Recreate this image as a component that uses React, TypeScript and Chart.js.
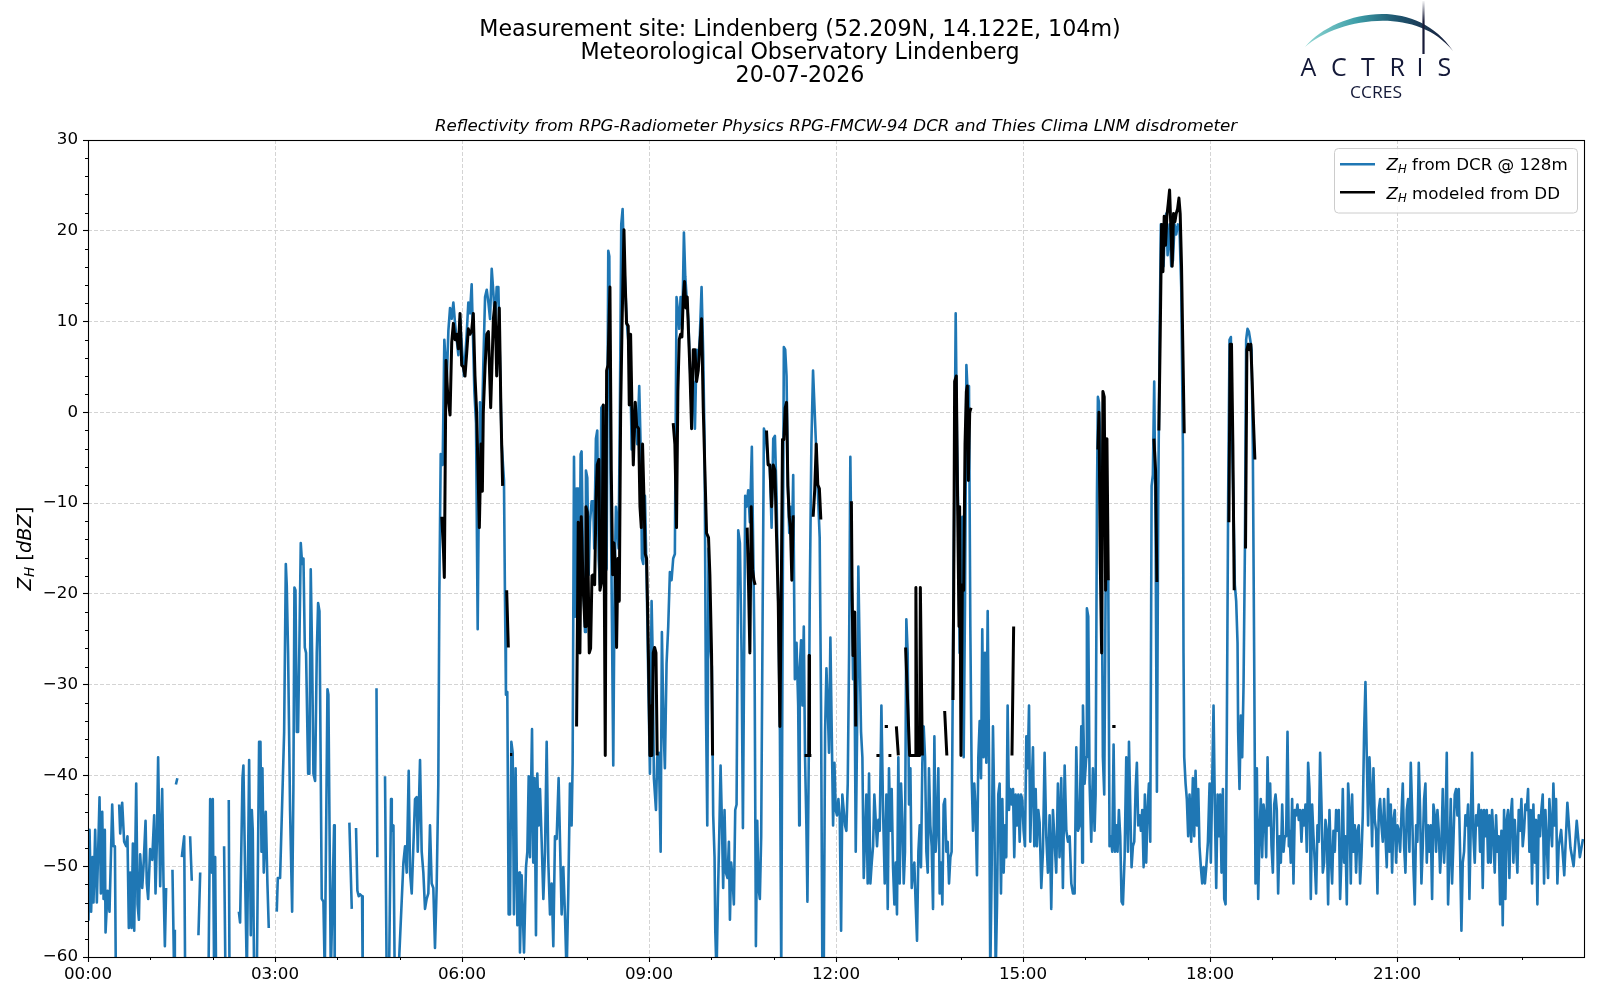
import React, { useEffect, useRef } from "react";
import { Chart, registerables } from "chart.js";
Chart.register(...registerables);

// ---------- axis ticks ----------
const xTickMinutes = [0, 180, 360, 540, 720, 900, 1080, 1260];
const xMinorMinutes = [60, 120, 240, 300, 420, 480, 600, 660, 780, 840, 960, 1020, 1140, 1200, 1320, 1380];
const yTickValues = [-60, -50, -40, -30, -20, -10, 0, 10, 20, 30];
const yMinorValues = [-58, -56, -54, -52, -48, -46, -44, -42, -38, -36, -34, -32, -28, -26, -24, -22, -18, -16, -14, -12, -8, -6, -4, -2, 2, 4, 6, 8, 12, 14, 16, 18, 22, 24, 26, 28];

// ---------- DCR reflectivity [minute of day, dBZ]  (null = no data) ----------
const dcrNight: [number, number | null][] = [
  [0.5,-56],[1.5,-46],[3,-55],[4.4,-49],[5.3,-54],[6.9,-46],[8.5,-54],[11.1,-42.4],[12.4,-53],[13.7,-44],[15,-53.6],[16.2,-46],[16.9,-57.3],[18.8,-52.7],[20.7,-55],[23.3,-43.2],[24.6,-47.8],[25.9,-47.8],[26.8,-62],[28,null],
  [30,-43.2],[31,-46.4],[32.9,-43],[34.8,-47.3],[36.8,-47.8],[38,-46.7],[39.3,-56.8],[40.6,-50.7],[41.9,-56.8],[43.2,-47.5],[44.5,-57.1],[46.4,-40.9],[47.7,-54.2],[49,-55.9],[50.2,-48.7],[52.2,-52.4],[53.4,-50.1],[55.4,-45],[56.6,-51.9],[57.9,-53.6],[59.8,-48.1],[61.8,-49.3],[63.7,-44.4],[65,-53],[66.3,-47.3],[67.5,-38],[69.5,-52.2],[71.4,-41.5],[72.7,-51.9],[74,-58.8],[75.2,-52.4],[77,null],
  [81.3,-50.4],[82.9,-62],[83.6,-57],[84.1,null],
  [84.6,-41],[86,-40.3],[86.5,null],
  [90.3,-49],[92.6,-46.7],[93.5,-62],[94,null],
  [98.3,-46.7],[99.9,-51.6],[100.5,null],
  [106.3,-57.6],[108,-50.7],[108.5,null],
  [116,-62],[117.6,-42.6],[119.2,-50.7],[120.1,-42.6],[121.4,-62],[122.4,-49],[123.3,-62],[124,null],
  [131,-47.8],[132.3,-62],[133,null],
  [135.5,-42.7],[136.2,-62],[137,null],
  [145.2,-55],[146.4,-56.2],[148.7,-40.3],[149.6,-38.9],[151.6,-53.6],[152.9,-62],[155.1,-38.3],[156.7,-57.6],[157.7,-43.8],[158.6,-46.1],[159.9,-62],[162.5,-62],[164.7,-36.3],[166,-36.3],[167,-48.4],[167.9,-39.2],[169.2,-50.7],[171.1,-44],[172.7,-51.9],[174,-56.8],[175,null],
  [181.7,-55],[182.7,-51.3],[184.9,-51.3],[188.8,-35.2],[190.4,-16.7],[191.3,-19],[192.6,-26.5],[194.5,-43.8],[196.5,-55],[197.7,-41.5],[198.7,-19.3],[199.7,-19.6],[201,-35.2],[202.2,-35.2],[203.5,-25.4],[204.8,-14.4],[206.1,-16.7],[207.4,-16.1],[208.7,-25.9],[209.9,-26.5],[211.9,-39.8],[213.1,-39.8],[214.4,-17.3],[215.7,-26.5],[217,-39.8],[218.6,-40.6],[220.2,-26.5],[221.5,-21],[222.8,-21.9],
  [225,-53.6],[226.6,-53.9],[227.9,-62],[230.5,-30.5],[231.4,-31.1],[233.7,-62],[236.9,-45.5],[237.5,-62],[238,null],
  [251.6,-45.2],[253.9,-54.7],[254.5,null],
  [258,-45.8],[259.3,-52.7],[260.6,-53.3],[261.9,-53.1],[263.8,-53.3],[264.4,-62],[265,null],
  [277.7,-30.4],[278.5,-49],[279,null],
  [285.9,-40.1],[287.5,-62],[289.8,-62],[291.7,-42.6],[292.4,-46.1],[294,-45.5],[295.2,-62],[298.8,-62],
  [303.6,-49.6],[305.2,-47.8],[306.8,-50.7],[308.7,-39.5],[310,-50.7],[311.6,-53],[313.2,-47.8],[314.8,-42.6],[316.4,-42.4],[317.4,-48.4],[319.6,-38.3],[321.2,-48.4],[322.8,-50.7],[324.4,-54.7],[326,-53.6],[327.6,-53],[329.2,-45.5],[330.8,-51.9],[332.4,-52.4],[334,-59],[335.6,-52.4],[337.2,-40.9],
];

const dcrMorning: [number, number | null][] = [
  [338.2,-20],[339.5,-4.6],[341.4,-5.8],[343,8],[345.3,3.4],[346.9,9],[348.5,11.5],[350.1,10.3],[351.7,12.1],[353.3,9.8],[354.9,8],[356.5,6.3],[358.1,10.3],[359.7,7.5],[361.9,4],[364.5,8.6],[366.1,12.1],[367.7,10.9],[369.3,14.1],[370.9,6.9],[371.9,2.3],[373.5,-1.2],[375.1,-23.9],[376.4,-6.4],[377.3,1.1],[378.9,-3.5],[380.5,5.2],[382.2,12.7],[383.8,13.5],[385.4,12.1],[387,10.3],[388.6,15.8],[390.2,13.2],[391.8,9.8],[393.4,13.8],[395,13.8],[396.6,5.2],[398.2,-3.5],[400.4,-7.5],[401.4,-20.8],[402.3,-31.1],[403.6,-30.8],[404.9,-55.3],[406.2,-55.3],[407.5,-36.3],[408.8,-37.5],[410,-55.3],[411.6,-39.2],[413.3,-56.5],[415.2,-50.7],[415.8,-59.5],[417.4,-51],[419.7,-59.5],[421.6,-50.1],[422.9,-48.4],[424.2,-40.1],[425.4,-49],[427.4,-34.9],[428.6,-49.6],[429.9,-40.3],[431.2,-57.6],[432.5,-39.8],[433.8,-45.5],[435.1,-41.5],[436.7,-47.3],[438.3,-53.6],[439.9,-48.4],[441.5,-36.3],[443.1,-49.6],[444.7,-55.3],[446.3,-51.9],[447.9,-58.8],[449.5,-46.7],[451.1,-47],[453,-40.3],
  [455.9,-55.3],[457.5,-50.1],[459.1,-55.3],[460.7,-62],[462.3,-53],[463.9,-40.9],[465.5,-45.5],[466.5,-38.6],[467.8,-4.9],[469.1,-22.5],[470.3,-8.4],[471.9,-8.4],[472.9,-23.1],[474.2,-4.6],[475.1,-4.3],[476.7,-18.5],[478.4,-24.2],[479.3,-6.4],[480.6,-7.2],[481.9,-17.9],[483.2,-12.1],[484.8,-9.8],[486.4,-9.8],[487.3,-15],[488.9,-2.9],[490.2,-2],[491.5,-16.1],[492.8,-19],[494.1,0.5],[496,0.8],[497.3,-14.4],[499.2,-17.3],[500.8,17.8],[501.8,17.2],[503,-6.4],[504.3,-22.8],[505.6,-38.9],[506.9,-18.5],[508.2,-10.4],[509.5,-12.7],[510.7,-15],[512,0.5],[513.3,20.7],[514.6,22.4],[515.9,16.7],[517.2,13.8],[518.4,10.3],[520,8],[521.6,8],[523.3,-4.1],[524.9,-2.9],[526.8,0],[528.7,-3.5],[530.6,2.9],[531.9,-3.5],[533.2,-16.1],[534.5,-16.7],[536.1,-9.2],[537.7,-17.9],[539.3,-29.4],[540.9,-39.8],[542.5,-20.8],[543.5,-26.5],[544.7,-40.3],[546.7,-43.8],[547.9,-38],[549.5,-37.5],[551.2,-48.4],[552.4,-24.2],[554,-34.6],[555.3,-39.2],[556.9,-27.7],[558.5,-23.6],[560.1,-17.6],[561.7,-18.5],[563.3,-16.1],[564.9,-15.6],[566.5,12.7],[568.1,10.9],[569.1,9.2],[570.4,12.7],[572,9.2],[573.6,19.8],[574.9,15],[576.2,12.7],[577.8,10.3],[579.4,5.2],[581,0.5],[582.6,3.4],[584.2,-1.8],[585.8,6.9],[587.4,5.2],[589,8.6],[590.6,13.8],[592.2,6.3],[593.5,-3.5],[594.8,-32.3],[596.1,-45.5],[597.3,-15],[598.6,-25.2],[600.5,-28],[601.8,-44.4],[603.1,-49],[603.8,-57.1],[605,-62],[606.3,-53.6],[607.6,-46.7],[608.9,-38.9],[610.2,-45.2],[611.4,-52.4],[612.7,-43.8],[614,-50.7],[615.6,-51.3],[616.9,-47.3],[617.9,-55.9],[619.1,-49.6],[620.4,-51.3],[621.7,-54.2],[623,-43.8],[624.3,-43.2],[625.9,-13],[627.5,-14.4],[629.1,-26.5],[630.4,-45.8],[631.6,-26.5],[632.6,-9.2],[633.9,-10.4],[635.5,-8.6],[637.1,-12.1],[639,-3.8],[640.3,-15],[641.6,-26.5],[642.9,-58.8],[644.2,-45],[645.4,-52.4],[646.7,-53.6],[648,-46.7],[649.3,-23.6],[650.6,-1.8],[651.8,-2.3],[653.1,-3.5],[654.7,-5.8],[656.3,-5.8],[658,-12.7],[659.6,-2.9],[661.2,-2.6],[662.8,-9.2],[664.4,-20.8],[666,-35.2],[667.3,-62],[668.5,-26.5],[669.8,7.2],[671.1,6.9],[672.4,4],[673.7,-8.1],[675,-13.3],[676.2,-10.4],[677.5,-15],[678.8,-6.9],[680.4,-29.4],[682,-25.4],[683.6,-32.3],[684.6,-45.5],
];

const dcrAfternoon: [number, number | null][] = [
  [685.1,-28.2],[686.4,-25.1],[687.7,-32.3],[689,-23.6],[690.2,-38],[691.5,-45.5],[692.5,-53.9],[693.8,-38],[694.7,-20.8],[696.3,-3.5],[697.9,4.6],[699.5,0],[701.1,-4.6],[702.7,-9.2],[704.3,-13.8],[705.6,-32.3],[706.9,-62],[708.2,-62],[709.5,-35.2],[710.8,-28.2],[712,-32.3],[713.3,-37.5],[714.6,-24.8],[715.9,-35.2],[717.2,-45.5],[718.5,-38.6],[719.7,-43.8],[721,-44.4],[722.3,-42.6],[723.6,-44.4],[724.9,-57.1],[726.1,-42.1],[727.4,-43.8],[728.7,-45.5],[730,-46.1],[731.3,-40.9],[732.6,-26.5],[733.8,-4.9],[735.1,-17.9],[736.4,-29.4],[737.7,-26.5],[739,-48.4],[740.3,-35.2],[741.5,-17],[742.8,-26.5],[744.1,-35.2],[745.4,-38],[746.7,-51.3],[748,-46.7],[749.2,-42.1],[750.5,-51.9],[751.8,-39.8],[753.1,-51.9],[754.4,-49.6],[755.7,-47.8],[756.9,-42.1],[758.2,-44.9],[759.5,-47.8],[760.8,-44.9],[762.1,-46.1],[763.7,-32.3],[765.3,-43.8],[766.9,-51.9],[768.5,-42.1],[769.8,-54.7],[771,-39.2],[772.3,-46.1],[773.6,-41.5],[774.9,-50.1],[776.2,-54.2],[777.5,-49.6],[778.7,-55.3],[780,-38],[781.3,-51.9],[782.6,-40.9],[783.9,-44.9],[785.2,-51.9],[786.4,-48.4],[787.7,-22.8],[789,-26.5],[790.3,-43.2],[791.6,-39.2],[792.9,-52.4],[794.1,-50.7],[795.4,-49.6],[796.7,-54.2],[798,-58.2],[799.3,-48.4],[800.6,-45.5],[801.8,-50.1],[803.1,-38.6],[804.4,-34.6],[805.7,-38],[807,-48.4],[808.3,-50.7],[809.5,-39.2],[810.8,-45.5],[812.1,-47.8],[813.4,-54.7],[814.7,-35.7],[815.9,-48.4],[817.2,-45.5],[818.5,-39.2],[819.8,-53],[821.1,-49.6],[822.4,-54.2],[823.6,-43.2],[824.9,-42.6],[826.2,-48.4],[827.5,-47.3],[828.8,-51.9],[830.1,-49],[831.3,-48.4],[832.6,-26.5],[833.9,-9.2],[835.2,10.9],[836.5,-3.5],[837.8,-12.1],[839,-26.5],[840.3,-20.8],[841.6,-11.5],[842.9,-38],[844.2,-20.8],[845.5,5.2],[846.7,2.3],[848,2.9],[849.3,-23.6],[850.6,-40.3],[851.9,-46.1],[853.1,-40.9],[854.4,-43.8],[855.7,-51],[857,-38],[858.3,-34],[859.6,-40.3],[860.8,-23.9],[862.1,-38],[863.4,-26.5],[864.7,-38.6],[866,-21.9],[867.3,-38],[868.5,-62],[869.8,-50.7],[871.1,-34.6],[872.4,-43.8],[873.7,-62],[875,-54.2],[876.2,-42.1],[877.5,-40.9],[878.8,-53],[880.1,-42.6],[881.4,-50.7],[882.7,-45.5],[883.9,-49],[885.2,-32.3],[886.5,-43.8],[887.8,-41.5],[889.1,-43.2],[890.4,-41.5],[891.6,-49],[892.9,-42.1],[894.2,-45.5],[895.5,-42.1],[896.8,-47.3],[898.1,-42.1],[899.3,-42.6],[900.6,-46.1],[901.9,-47.8],[903.2,-35.7],[904.5,-39.2],[905.8,-32.3],[907,-47.3],[908.3,-41.5],[909.6,-36.9],[910.9,-47.8],[912.2,-41.5],[913.4,-47.8],[914.7,-43.8],
  [916,-45.2],[917.6,-52.4],[919.2,-48.4],[920.8,-37.5],[922.4,-46.7],[924,-50.7],[925.6,-44.4],[927.2,-54.7],[928.8,-43.8],[930.4,-47.3],[932,-50.7],[933.6,-40.9],[935.2,-49],[936.8,-40.3],[938.4,-52.4],[940.1,-38.9],[941.7,-46.1],[943.3,-47.3],[944.9,-46.7],[946.5,-51.9],[948.1,-53],[949.7,-53],[951.3,-36.9],[952.9,-46.1],[954.5,-45.5],[956.1,-34.6],[957,-49.6],[957.7,-32.3],[959.3,-40.9],[960.9,-38],[961.5,-21.6],[962.8,-22.5],[964.1,-40.9],[965.7,-47.3],[967.3,-39.2],[968.9,-46.1],[969.9,-42.1],[971.2,-9.2],[972.1,1.7],[973.1,1.1],[974.4,-3.5],[975.7,-15],[976.9,-38],[978.2,-42.1],[979.5,-19.6],[980.8,-18.5],[982.1,-18.5],[983.3,-47.8],[984.6,-46.7],[985.9,-48.4],[987.2,-36.6],[988.5,-48.4],[989.8,-45.5],[991,-48.4],[992.3,-43.8],[993.6,-46.7],[994.9,-53.9],[996.2,-54.2],[997.8,-49],[999.4,-38],[1001,-48.4],[1002,-36.3],[1003.2,-43.2],[1004.5,-50.1],[1005.8,-47.8],[1007.1,-47.3],[1008.4,-41.5],[1009.6,-38.6],[1010.9,-45.5],[1012.2,-44.4],[1013.5,-46.1],[1014.8,-43.8],[1016.1,-50.1],[1017.3,-42.1],[1018.6,-49.6],[1019.9,-43.8],[1021.2,-40.9],[1022.5,-47.3],[1023.8,-8.1],[1025,-6.9],[1026.3,3.4],[1027.6,-12.7],[1028.9,-41.8],[1030.2,-9.2],[1031.5,8],[1032.7,20.7],[1034,19],[1035.3,16.1],[1036.6,20.7],[1037.9,21.9],[1039.2,17.3],[1041.1,20.7],[1042.7,16.1],[1044.3,16.7],[1045.9,20.7],[1047.5,19.6],[1049.1,20.7],[1050.7,20.1],[1052.3,13.8],[1053.9,-3.5],[1054.5,-26.5],[1055.2,-38],[1056.5,-40.9],[1057.7,-42.6],[1059,-46.7],[1060.3,-42.1],[1061.9,-47.3],[1063.5,-40.3],[1064.8,-46.7],[1066.1,-39.5],[1067.4,-45.5],[1068.7,-41.5],[1069.9,-47.8],[1071.2,-50.1],[1072.5,-51.9],[1073.8,-50.1],[1075.1,-51.9],[1076.4,-50.1],[1078,-47.3],[1079.6,-40.9],[1080.8,-49.6],[1082.1,-40.9],[1083.4,-32.3],[1084.7,-43.8],[1086,-52.4],[1087.3,-42.1],[1088.5,-46.7],[1089.8,-42.1],[1091.1,-50.7],[1092.4,-41.5],[1093.7,-53.6],[1095,-54.2],[1096.2,-35.2],[1097.5,-9.2],[1098.8,8],[1100.1,8.3],[1101.4,-3.5],[1102.6,-10.4],[1103.9,-19],[1105.2,-20.8],[1106.5,-25.4],[1107.1,-35.2],[1108.4,-41.5],[1109.7,-33.4],[1111,-38],[1112.3,-30],[1113.6,-15],[1114.8,8],[1116.1,9.2],[1117.4,8.9],[1118.7,8],[1120,6.9],[1121.2,-3.5],[1122.5,-26.5],[1123.8,-51.9],[1125.1,-39.2],[1126.4,-53.6],[1127.7,-46.1],[1128.9,-42.6],[1130.2,-49],[1131.5,-43.2],[1132.8,-44.4],[1134.1,-49],[1135.4,-38],[1136.6,-45.5],[1137.9,-40.9],[1139.2,-47.8],[1140.5,-50.7],[1141.8,-43.2],[1143.1,-42.1],[1144.3,-43.8],[1145.6,-53],[1146.9,-46.7],[1148.2,-49.6],[1149.5,-43.2],[1150.8,-48.4],[1152,-46.7],[1153.3,-46.7],[1154.6,-35.2],[1155.9,-47.8],
];

// evening: regular sampling from 19:16:30, every 1.283 min
const dcrEveningStart = 1156.5;
const dcrEveningStep = 1.283;
const dcrEvening: number[] = [
  -46.1,-49.6,-42.6,-51.9,-43.8,-44.4,-43.2,-44.9,-43.8,-47.3,-43.8,-45.5,-43.2,-48.4,-38.6,-41.5,-53.6,-43.2,-46.7,-49.6,
  -53,-45.5,-47.3,-37.5,-43.2,-50.7,-49.6,-44.9,-46.1,-54.2,-43.8,-49,-51.9,-46.1,-48.4,-43.8,-46.1,-43.8,-53.6,-49,
  -41.5,-49.6,-46.7,-54.2,-40.9,-43.8,-51.9,-42.1,-48.4,-45.5,-50.7,-46.1,-45.5,-51.9,-49,-44.4,-35.2,-29.7,-38,-45.5,
  -38,-41.5,-47.8,-39.2,-44.9,-46.1,-53,-43.8,-42.6,-45.5,-47.3,-42.6,-46.7,-50.1,-41.5,-48.4,-43.2,-50.7,-44.9,-43.8,
  -49.6,-45.5,-46.1,-48.4,-44.4,-40.9,-47.8,-50.7,-43.8,-42.6,-48.4,-38.6,-43.8,-50.1,-54.2,-45.5,-47.3,-38.6,-43.8,-51.9,
  -47.8,-42.6,-40.9,-49.6,-45.5,-48.4,-45.5,-53.6,-43.2,-44.4,-48.4,-43.8,-46.1,-50.7,-47.8,-41.5,-49.6,-46.1,-37.5,-54.2,
  -49,-42.6,-51.9,-47.3,-42.1,-41.5,-44.4,-41.5,-48.4,-57.1,-49.6,-48.4,-44.4,-45.5,-43.2,-53.6,-45.5,-37.5,-46.7,-49.6,
  -44.4,-45.5,-43.2,-48.4,-43.8,-52.4,-43.8,-46.7,-43.8,-49.6,-44.4,-49.6,-43.8,-46.7,-50.7,-44.4,-48.4,-46.7,-54.2,-46.1,
  -56.5,-43.8,-53.6,-44.9,-43.8,-51.3,-44.4,-42.6,-49.6,-44.9,-47.8,-50.7,-43.8,-46.1,-42.6,-47.8,-46.1,-43.2,-43.8,-41.5,
  -48.4,-43.8,-51.9,-43.2,-49.6,-44.9,-54.2,-44.4,-46.7,-43.8,-42.1,-51.9,-43.8,-47.3,-51.3,-42.6,-45.5,-47.8,-40.9,-45.5,
  -42.6,-51.9,-47.8,
];
const dcrLateNight: [number, number][] = [
  [1418,-46],[1421,-51],[1424,-43],[1427,-48],[1430,-50],[1433,-45],[1436,-49],[1439,-47],
];

// ---------- Disdrometer-modelled reflectivity [minute of day, dBZ] ----------
const ddMorning: [number, number | null][] = [
  [340.5,-11.5],[342.1,-15],[343,-18.2],[344.6,5.7],[346.2,2],[348.5,-0.3],[350.1,7.7],[351.7,9.8],[353.3,8],[354.9,8.6],[356.5,7],[358.1,10.9],[359.7,5.2],[361.3,5],[362.9,4],[364.5,6.5],[366.1,9.2],[367.7,8.6],[369.3,9],[370.9,10.9],[372.5,4],[374.1,0],[376.7,-12.7],[378.3,-3.5],[379.6,-8.7],[380.5,0],[382.2,5],[383.8,8.6],[385.4,8.9],[387.6,0.5],[390.2,10.3],[391.8,12.1],[393.4,4],[395.9,11.5],[397.5,0],[399.1,-8.1],[400,null],
  [403,-19.6],[404.6,-25.9],[405.2,null],
  [406.2,-37.7],[408.4,-37.7],[409,null],
  [470.3,-34.6],[471.9,-12.1],[473.5,-26.5],[474.8,-11.5],[476.7,-19.6],[478.4,-23.6],[479.3,-10.4],[480.6,-11],[482.5,-26.5],[483.8,-26],[485.1,-18],[486.4,-17.9],[487.7,-19],[489,-9.8],[490.2,-5.8],[491.8,-5.2],[492.8,-19.6],[494.7,-18.5],[496,0.8],[497.9,-37.8],[499.2,4.6],[500.5,5.2],[502.4,13.8],[503.7,-6.4],[505,-17.9],[506.3,-14.4],[507.5,-16.7],[508.8,-25.9],[510.1,-16.1],[511.4,-20.8],[512.7,0],[514,9.2],[515.9,20.1],[517.2,13.8],[518.4,9.8],[520,9.5],[521,0.8],[522.3,8.6],[523.6,0.5],[524.9,-5.8],[526.8,1.1],[528.1,-1.5],[530,-1.8],[531.3,-10.4],[532.6,-12.7],[533.8,-3.5],[535.1,-9.2],[536.4,-15.6],[537.7,-16.1],[539,-23.6],[540.2,-32.3],[540.9,-37.8],[542.8,-37.8],[544.1,-26.5],[545.4,-25.9],[546.7,-26.5],[547.9,-37.8],[548.5,null],
  [563.3,-1.2],[564.9,-3.5],[566.5,-12.7],[567.8,2.3],[569.1,8],[570.4,8.6],[571.7,8.3],[573,12.7],[574.2,14.4],[575.5,11.5],[576.8,12.7],[578.1,8.6],[579.4,4.6],[581,-1.8],[582.6,6.9],[584.2,6.9],[585.8,3.4],[587.4,4.6],[589,7.5],[590.6,10.3],[592.2,0.5],[593.8,-6.4],[595.4,-13.3],[597.3,-13.8],[598.6,-17.9],[600.2,-26.5],[601.2,-37.8],[602,null],
  [634.5,-12.7],[635.8,-19],[637.1,-26.5],[638.4,-10.4],[639.7,-17.3],[641,-18.5],[642.2,-19],[643,null],
  [653.1,-2],[654.7,-5.8],[656.3,-5.8],[658,-10.4],[659.6,-5.8],[661.2,-6.4],[662.8,-13.8],[664.4,-20.8],[666,-34.6],[667.3,-20],[668.5,-3],[669.8,-3],[671.1,0.5],[672.4,1.1],[673.7,-8.1],[675,-11.5],[676.2,-12.7],[677.5,-18.5],[678.8,-11.5],[680.1,-11.5],[681,null],
];

const ddAfternoon: [number, number | null][] = [
  [689.8,-37.8],[693.8,-37.8],[694.1,-26.8],[694.5,-37.8],[696.3,-37.8],[697,null],
  [698,-11.5],[699.5,-8.6],[701,-3.5],[702.5,-8],[704,-8.4],[705.4,-11.8],[706,null],
  [734.8,-9.8],[735.5,-19.6],[736.4,-26.8],[738,-22],[739,-34.6],[739.5,null],
  [758.9,-37.8],[762,-37.8],[762.5,null],
  [766.9,-34.6],[770,-34.6],[770.2,null],
  [770.5,-37.8],[773.3,-37.8],[774,null],
  [778.1,-34.6],[780,-37.8],[780.5,null],
  [787,-25.9],[790.9,-37.8],[796.4,-37.8],[796.9,-19.3],[798,-37.8],[800.6,-37.8],[801.2,-19.3],[803.1,-37.8],[803.5,null],
  [824.6,-32.9],[826.7,-37.8],[827,null],
  [832.6,-31.7],[833.3,-19.6],[834.2,3.4],[835.8,4],[837.1,-10.4],[838.4,-23.6],[839,-10.4],[840.3,-37.8],[841.6,-19],[842.9,-19.6],[844.2,-3.5],[845.5,2.3],[846.4,2.9],[847.4,-7.5],[848.7,0],[850,0.5],[850.5,null],
  [889.4,-37.8],[891,-23.6],[891.5,null],
  [972.1,-4.1],[973.1,0],[974.4,-16.7],[975.7,-26.5],[976.9,2.3],[978.2,1.7],[979.5,-19.6],[980.8,-2.9],[982.1,-18.5],[982.6,null],
  [985.9,-34.6],[989.1,-34.6],[989.5,null],
  [1026,-2.9],[1027.6,-6.4],[1028.9,-18.7],[1029.5,null],
  [1030.8,-2],[1032.1,8.6],[1033.4,20.7],[1034.7,15.5],[1035.9,21.6],[1037.2,18.4],[1038.5,21.6],[1039.8,23],[1041.1,24.5],[1042.4,20.1],[1043.6,16.1],[1044.9,21.9],[1046.2,21],[1047.5,21.9],[1048.8,22.4],[1050.1,23.6],[1051.3,21.9],[1052.6,16.1],[1053.9,6.9],[1055.2,-2.3],[1055.8,null],
  [1098.2,-12.1],[1099.4,7.5],[1100.7,7.5],[1102,-3.5],[1103.3,-19.6],[1103.8,null],
  [1114.2,-15],[1115.5,6.9],[1116.8,7.5],[1118,6.9],[1119.3,7.5],[1120.6,3.4],[1121.9,-1.2],[1123.2,-5.2],
];

const DCR_LABEL = "Z_H from DCR @ 128m";
const DD_LABEL = "Z_H modeled from DD";

const toXY = (arr: [number, number | null][]) => arr.map(([x, y]) => ({ x, y }));

function fmtHM(m: number) {
  const h = Math.floor(m / 60);
  const mm = Math.round(m % 60);
  return String(h).padStart(2, "0") + ":" + String(mm).padStart(2, "0");
}

const framePlugin = {
  id: "frameAndMinor",
  afterDraw(chart: any) {
    const { ctx, chartArea, scales } = chart;
    const { left, right, top, bottom } = chartArea;
    ctx.save();
    ctx.strokeStyle = "#000";
    ctx.lineWidth = 1;
    ctx.beginPath();
    for (const v of yMinorValues) {
      const y = Math.round(scales.y.getPixelForValue(v)) + 0.5;
      ctx.moveTo(left - 3, y);
      ctx.lineTo(left, y);
    }
    for (const m of xMinorMinutes) {
      const x = Math.round(scales.x.getPixelForValue(m)) + 0.5;
      ctx.moveTo(x, bottom);
      ctx.lineTo(x, bottom + 3);
    }
    ctx.stroke();
    ctx.lineWidth = 1.1;
    ctx.strokeRect(Math.round(left) + 0.5, Math.round(top) + 0.5, Math.round(right - left), Math.round(bottom - top));
    ctx.restore();
  },
};

export default function App() {
  const ref = useRef<HTMLCanvasElement>(null);

  useEffect(() => {
    if (!ref.current) return;
    Chart.defaults.font.family = "'DejaVu Sans', sans-serif";
    const dcrData = [
      ...toXY(dcrNight),
      ...toXY(dcrMorning),
      ...toXY(dcrAfternoon),
      ...dcrEvening.map((y, i) => ({ x: dcrEveningStart + i * dcrEveningStep, y })),
      ...toXY(dcrLateNight),
    ];
    const ddData = [...toXY(ddMorning), ...toXY(ddAfternoon)];
    const tickFont = { family: "'DejaVu Sans', sans-serif", size: 16.7 };
    const chart = new Chart(ref.current, {
      type: "line",
      data: {
        datasets: [
          { label: DCR_LABEL, data: dcrData, borderColor: "#1f77b4", borderWidth: 2.6, pointRadius: 0, tension: 0, fill: false, order: 1, clip: 0, borderJoinStyle: "round" } as any,
          { label: DD_LABEL, data: ddData, borderColor: "#000000", borderWidth: 3, pointRadius: 0, tension: 0, fill: false, order: 0, clip: 0, borderJoinStyle: "round" } as any,
        ],
      },
      options: {
        animation: false,
        responsive: false,
        layout: { padding: { top: 140, right: 16, left: 0, bottom: 0 } },
        plugins: { legend: { display: false }, tooltip: { enabled: false }, title: { display: false } },
        scales: {
          x: {
            type: "linear",
            min: 0,
            max: 1440,
            afterBuildTicks: (s: any) => { s.ticks = xTickMinutes.map((v) => ({ value: v })); },
            afterFit: (s: any) => { s.height = 43; },
            ticks: { callback: (v: any) => fmtHM(Number(v)), color: "#000", font: tickFont, padding: 3, maxRotation: 0, autoSkip: false },
            grid: { color: "#d4d4d4", lineWidth: 1, tickColor: "#000", tickLength: 5, tickWidth: 1.1 },
            border: { display: false, dash: [4, 2] },
          },
          y: {
            type: "linear",
            min: -60,
            max: 30,
            afterBuildTicks: (s: any) => { s.ticks = yTickValues.map((v) => ({ value: v })); },
            afterFit: (s: any) => { s.width = 88; },
            ticks: { callback: (v: any) => (Number(v) < 0 ? "\u2212" + Math.abs(Number(v)) : String(v)), color: "#000", font: tickFont, padding: 5, autoSkip: false },
            grid: { color: "#d4d4d4", lineWidth: 1, tickColor: "#000", tickLength: 5, tickWidth: 1.1 },
            border: { display: false, dash: [4, 2] },
          },
        },
      } as any,
      plugins: [framePlugin],
    });
    return () => chart.destroy();
  }, []);

  const font = "'DejaVu Sans', sans-serif";
  return (
    <div style={{ position: "absolute", left: 0, top: 0, width: 1600, height: 1000, background: "#fff", overflow: "hidden" }}>
      <canvas ref={ref} width={1600} height={1000} style={{ position: "absolute", left: 0, top: 0, width: 1600, height: 1000 }} />
      <svg width={1600} height={1000} style={{ position: "absolute", left: 0, top: 0, pointerEvents: "none" }}>
        <defs>
          <linearGradient id="arcGrad" gradientUnits="userSpaceOnUse" x1="1306" y1="0" x2="1452" y2="0">
            <stop offset="0" stopColor="#8fd6d2" />
            <stop offset="0.35" stopColor="#3d9ea8" />
            <stop offset="0.62" stopColor="#1f5670" />
            <stop offset="1" stopColor="#171b38" />
          </linearGradient>
          <linearGradient id="poleGrad" gradientUnits="userSpaceOnUse" x1="0" y1="0" x2="0" y2="54">
            <stop offset="0" stopColor="#171b38" stopOpacity="0" />
            <stop offset="0.4" stopColor="#171b38" stopOpacity="1" />
            <stop offset="1" stopColor="#171b38" stopOpacity="1" />
          </linearGradient>
        </defs>

        {/* titles */}
        <g fontFamily={font} fill="#000" textAnchor="middle">
          <text x={800} y={35.7} fontSize={22.2}>Measurement site: Lindenberg (52.209N, 14.122E, 104m)</text>
          <text x={800} y={59.3} fontSize={22.2}>Meteorological Observatory Lindenberg</text>
          <text x={800} y={81.7} fontSize={22.2}>20-07-2026</text>
          <text x={836} y={131.3} fontSize={16.7} fontStyle="italic">Reflectivity from RPG-Radiometer Physics RPG-FMCW-94 DCR and Thies Clima LNM disdrometer</text>
        </g>

        {/* y axis label */}
        <text transform="translate(30.7,548.5) rotate(-90)" textAnchor="middle" fontFamily={font} fontSize={19.4} fill="#000">
          <tspan fontStyle="italic">Z</tspan>
          <tspan fontStyle="italic" fontSize={13.6} dy={3.5}>H</tspan>
          <tspan dy={-3.5}> [</tspan>
          <tspan fontStyle="italic">dBZ</tspan>
          <tspan>]</tspan>
        </text>

        {/* legend */}
        <rect x={1334.5} y={148.5} width={243} height={64.5} rx={4} ry={4} fill="#ffffff" fillOpacity={0.8} stroke="#cccccc" strokeWidth={1} />
        <line x1={1340} y1={164.3} x2={1375} y2={164.3} stroke="#1f77b4" strokeWidth={2.6} />
        <line x1={1340} y1={192.3} x2={1375} y2={192.3} stroke="#000000" strokeWidth={2.6} />
        <g fontFamily={font} fontSize={16.7} fill="#000">
          <text x={1386.5} y={170.4}>
            <tspan fontStyle="italic">Z</tspan>
            <tspan fontStyle="italic" fontSize={11.7} dy={3}>H</tspan>
            <tspan dy={-3}> from DCR @ 128m</tspan>
          </text>
          <text x={1386.5} y={198.6}>
            <tspan fontStyle="italic">Z</tspan>
            <tspan fontStyle="italic" fontSize={11.7} dy={3}>H</tspan>
            <tspan dy={-3}> modeled from DD</tspan>
          </text>
        </g>

        {/* ACTRIS logo */}
        <path d="M1305,47 C1335,11 1415,-6 1453,51 C1415,4 1337,19 1305,47 Z" fill="url(#arcGrad)" />
        <rect x={1422.4} y={1} width={2.2} height={53} fill="url(#poleGrad)" />
        <text x="1300.5 1331 1361 1389.5 1416.5 1437.5" y={76.3} fontFamily="'Open Sans', Lato, sans-serif" fontSize={25} fill="#141938">ACTRIS</text>
        <text x={1376} y={98.3} textAnchor="middle" fontFamily="'Open Sans', Lato, sans-serif" fontSize={17} fill="#141938" textLength={52} lengthAdjust="spacingAndGlyphs">CCRES</text>
      </svg>
    </div>
  );
}
